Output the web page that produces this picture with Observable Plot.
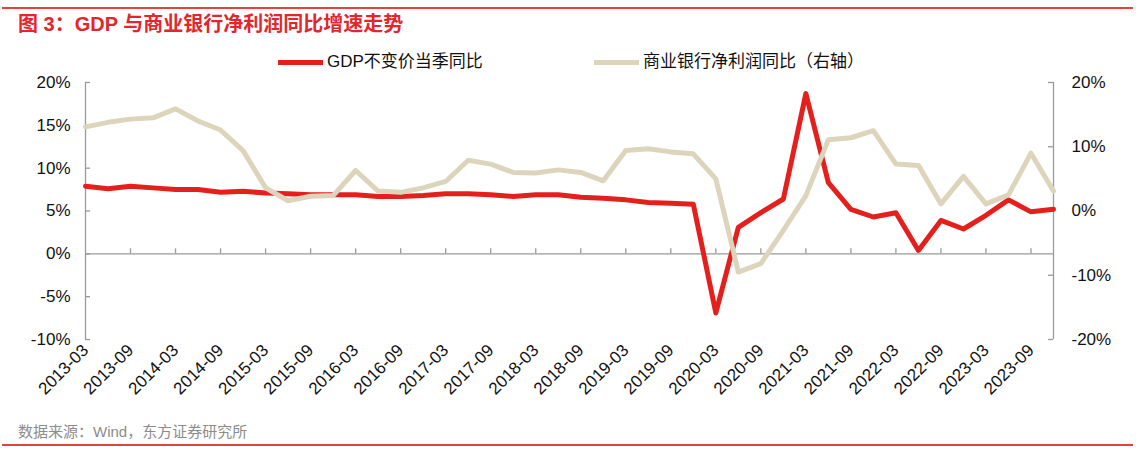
<!DOCTYPE html>
<html><head><meta charset="utf-8">
<script src="https://cdn.jsdelivr.net/npm/d3@7"></script>
<script src="https://cdn.jsdelivr.net/npm/@observablehq/plot@0.6"></script>
<style>
html,body{margin:0;padding:0;background:#fff;}
#wrap{position:relative;width:1136px;height:455px;overflow:hidden;font-family:"Liberation Sans",Arial,"Noto Sans CJK SC",sans-serif;}
.hr{position:absolute;left:2px;width:1131px;height:2px;background:#e8413c;}
#title{position:absolute;left:18px;top:12px;font-size:20px;font-weight:bold;color:#e3262b;line-height:24px;white-space:nowrap;}
#legend .sw{position:absolute;height:5px;}
#legend .lt{position:absolute;font-size:17px;line-height:20px;color:#111;white-space:nowrap;}
#chart{position:absolute;left:0;top:70px;}
#source{position:absolute;left:18px;top:423px;font-size:15px;color:#8c8c8c;line-height:18px;white-space:nowrap;}
</style></head>
<body>
<div id="wrap">
  <div class="hr" style="top:7px"></div>
  <div id="title">图 3：GDP 与商业银行净利润同比增速走势</div>
  <div id="legend"></div>
  <div id="chart"></div>
  <div id="source">数据来源：Wind，东方证券研究所</div>
  <div class="hr" style="top:444px"></div>
</div>
<script>
const quarters = [
  "2013-03","2013-06","2013-09","2013-12","2014-03","2014-06","2014-09","2014-12",
  "2015-03","2015-06","2015-09","2015-12","2016-03","2016-06","2016-09","2016-12",
  "2017-03","2017-06","2017-09","2017-12","2018-03","2018-06","2018-09","2018-12",
  "2019-03","2019-06","2019-09","2019-12","2020-03","2020-06","2020-09","2020-12",
  "2021-03","2021-06","2021-09","2021-12","2022-03","2022-06","2022-09","2022-12",
  "2023-03","2023-06","2023-09","2023-12"
];
// GDP constant-price quarterly YoY (%), left axis
const gdp = [
  7.9,7.6,7.9,7.7, 7.5,7.5,7.2,7.3, 7.1,7.0,6.9,6.9, 6.9,6.7,6.7,6.8,
  7.0,7.0,6.9,6.7, 6.9,6.9,6.6,6.5, 6.3,6.0,5.9,5.8, -6.9,3.1,4.8,6.4,
  18.7,8.3,5.2,4.3, 4.8,0.4,3.9,2.9, 4.5,6.3,4.9,5.2
];
// Commercial bank net profit YoY (%), right axis
const bankProfit = [
  13.1,13.8,14.3,14.5, 15.9,14.0,12.6,9.4, 3.6,1.6,2.3,2.4, 6.3,3.1,2.9,3.6,
  4.6,7.9,7.3,6.0, 5.9,6.4,6.0,4.7, 9.4,9.7,9.2,8.9, 5.0,-9.5,-8.2,-3.0,
  2.4,11.1,11.4,12.5, 7.3,7.1,1.1,5.4, 1.1,2.5,9.0,3.1
];
const seriesNames = ["GDP不变价当季同比", "商业银行净利润同比（右轴）"];
const seriesColors = ["#e5201c", "#ddd4bc"];
const xTickLabels = [
  "2013-03","2013-09","2014-03","2014-09","2015-03","2015-09","2016-03","2016-09",
  "2017-03","2017-09","2018-03","2018-09","2019-03","2019-09","2020-03","2020-09",
  "2021-03","2021-09","2022-03","2022-09","2023-03","2023-09"
];
const leftTicks = [-10,-5,0,5,10,15,20];
const rightTicks = [-20,-10,0,10,20];
const leftDomain = [-10,20];
const rightDomain = [-20,20];

const toLeft = d3.scaleLinear().domain(rightDomain).range(leftDomain);
const data = quarters.map((q,i)=>({i, gdp: gdp[i], bank: toLeft(bankProfit[i])}));
const xTickIdx = xTickLabels.map(l => quarters.indexOf(l));
const lastIdx = quarters.length - 1;
const axisColor = "#9a9a9a";
const font = '"Liberation Sans",Arial,"Noto Sans CJK SC",sans-serif';

const chart = Plot.plot({
  width: 1136, height: 340,
  marginTop: 12, marginBottom: 71, marginLeft: 85, marginRight: 83,
  x: {domain: [0, lastIdx]},
  y: {domain: leftDomain},
  style: {fontFamily: font, fontSize: "17px", color: "#111", background: "transparent", overflow: "visible"},
  marks: [
    Plot.ruleY([0], {stroke: axisColor, strokeWidth: 1.3}),
    Plot.ruleX([0, lastIdx], {stroke: axisColor, strokeWidth: 1.3}),
    Plot.ruleX(xTickIdx.slice(1), {y1: 0, y2: 0, insetTop: -5, stroke: axisColor, strokeWidth: 1.3}),
    Plot.ruleY(leftTicks, {x1: 0, x2: 0, insetRight: -5, stroke: axisColor, strokeWidth: 1.3}),
    Plot.ruleY(rightTicks.map(toLeft), {x1: lastIdx, x2: lastIdx, insetLeft: -5, stroke: axisColor, strokeWidth: 1.3}),
    Plot.line(data, {x: "i", y: "gdp", stroke: seriesColors[0], strokeWidth: 5, strokeLinejoin: "round"}),
    Plot.line(data, {x: "i", y: "bank", stroke: seriesColors[1], strokeWidth: 5, strokeLinejoin: "round"}),
    Plot.axisX({ticks: xTickIdx, tickFormat: i => quarters[i], tickRotate: -45, tickSize: 0, tickPadding: 8, fontSize: 17, label: null}),
    Plot.axisY({anchor: "left", ticks: leftTicks, tickSize: 0, tickPadding: 15, tickFormat: d => d + "%", fontSize: 17, label: null}),
    Plot.axisY({anchor: "right", ticks: rightTicks.map(toLeft), tickSize: 0, tickPadding: 18,
      tickFormat: d => Math.round(toLeft.invert(d)) + "%", fontSize: 17, label: null})
  ]
});
document.getElementById("chart").appendChild(chart);

// legend
const legend = document.getElementById("legend");
const legendPos = [[278, 327], [594, 643]];
seriesNames.forEach((name, i) => {
  const sw = document.createElement("div");
  sw.className = "sw";
  sw.style.left = legendPos[i][0] + "px";
  sw.style.top = "60px";
  sw.style.width = "45px";
  sw.style.background = seriesColors[i];
  legend.appendChild(sw);
  const t = document.createElement("div");
  t.className = "lt";
  t.style.left = legendPos[i][1] + "px";
  t.style.top = "52px";
  t.textContent = name;
  legend.appendChild(t);
});
</script>
</body></html>
